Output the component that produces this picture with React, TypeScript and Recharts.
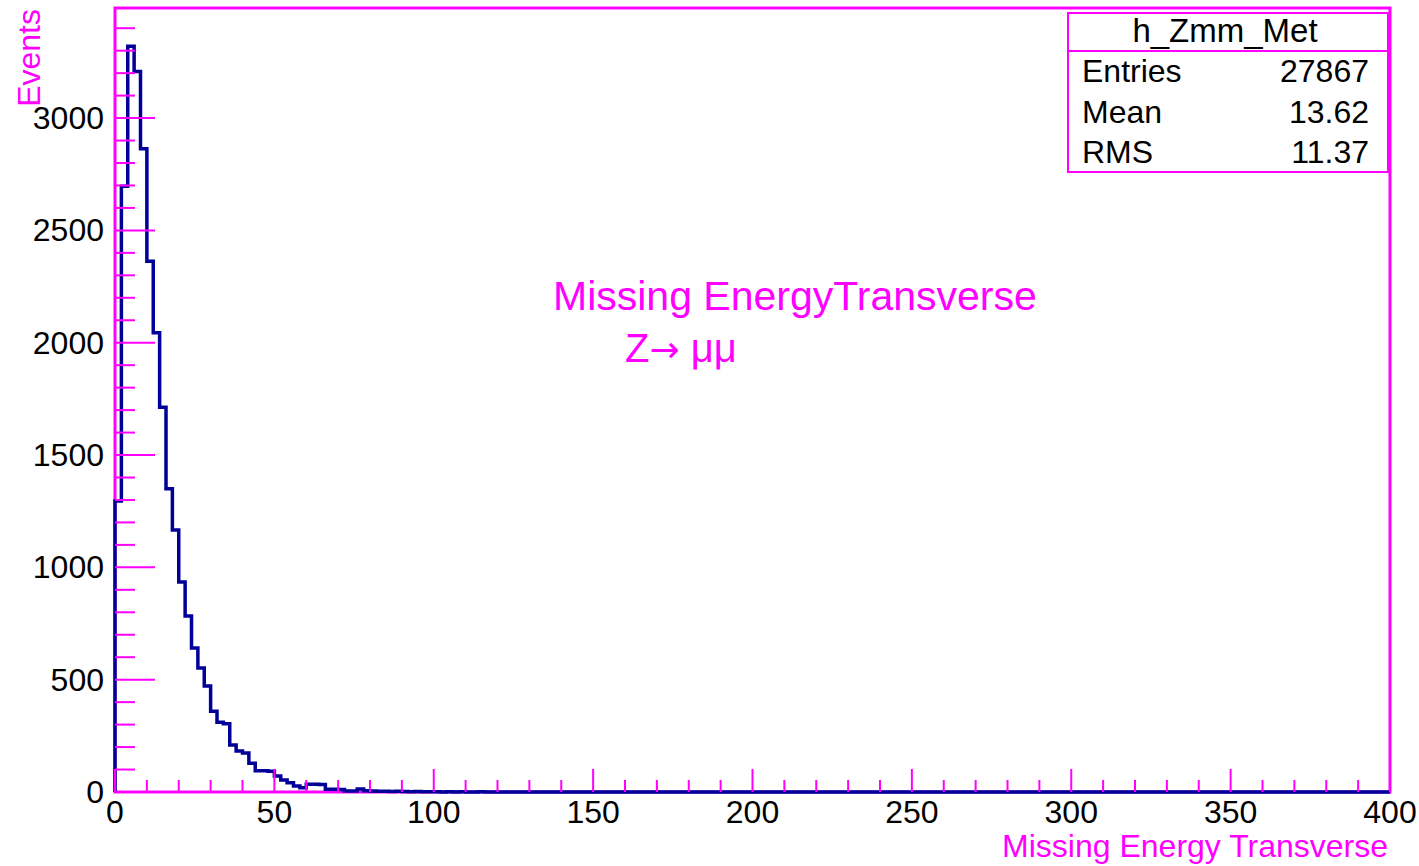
import { ComposedChart, Line, XAxis, YAxis, ReferenceArea } from 'recharts';

// h_Zmm_Met, 2 GeV bins starting at 0 (bins past the last one listed are empty)
const binWidth = 2;
const counts = [
    1295, 2697, 3320, 3207, 2863, 2363, 2044, 1713, 1350, 1166,
    935, 783, 641, 552, 472, 360, 311, 304, 209, 182,
    174, 128, 95, 95, 92, 71, 53, 41, 27, 19,
    34, 34, 33, 12, 12, 11, 4, 4, 13, 6,
    4, 3, 3, 2, 3, 2, 1, 2, 1, 1,
    1, 0, 1, 0, 1, 0, 0, 1, 0, 0,
];

const xMin = 0;
const xMax = 400;
const yMax = 3490;

const xTicks = [
    0, 10, 20, 30, 40, 50, 60, 70, 80, 90, 100, 110, 120, 130, 140, 150, 160, 170, 180, 190, 200,
    210, 220, 230, 240, 250, 260, 270, 280, 290, 300, 310, 320, 330, 340, 350, 360, 370, 380, 390, 400,
];
const xLabelled = [0, 50, 100, 150, 200, 250, 300, 350, 400];

const yTicks = [
    0, 100, 200, 300, 400, 500, 600, 700, 800, 900, 1000, 1100, 1200, 1300, 1400, 1500, 1600, 1700,
    1800, 1900, 2000, 2100, 2200, 2300, 2400, 2500, 2600, 2700, 2800, 2900, 3000, 3100, 3200, 3300, 3400,
];
const yLabelled = [0, 500, 1000, 1500, 2000, 2500, 3000];

const stats = [
    { name: 'Entries', value: '27867' },
    { name: 'Mean', value: '13.62' },
    { name: 'RMS', value: '11.37' },
];

const MAGENTA = '#ff00ff';
const HIST = '#000099';
const FONT = '"Liberation Sans", Arial, Helvetica, sans-serif';

// step data: lower bin edge -> count, closed at the axis end
const histData = [
    { x: xMin, y: 0 },
    ...counts.map((c, i) => ({ x: xMin + i * binWidth, y: c })),
    { x: xMin + counts.length * binWidth, y: 0 },
    { x: xMax, y: 0 },
];

const XTick = (props: any) => {
    const { x, y, payload } = props;
    const major = xLabelled.includes(payload.value);
    return (
        <g>
            <line x1={x} x2={x} y1={y} y2={y - (major ? 23 : 12)} stroke={MAGENTA} strokeWidth={2} />
            {major && (
                <text x={x} y={y + 31} textAnchor="middle" fontSize={32} fontFamily={FONT} fill="#000">
                    {payload.value}
                </text>
            )}
        </g>
    );
};

const YTick = (props: any) => {
    const { x, y, payload } = props;
    const major = yLabelled.includes(payload.value);
    return (
        <g>
            <line x1={x} x2={x + (major ? 40 : 20)} y1={y} y2={y} stroke={MAGENTA} strokeWidth={2} />
            {major && (
                <text x={x - 11} y={y + 11} textAnchor="end" fontSize={32} fontFamily={FONT} fill="#000">
                    {payload.value}
                </text>
            )}
        </g>
    );
};

export default function App() {
    return (
        <div style={{ position: 'absolute', left: 0, top: 0, width: 1419, height: 866, background: '#fff' }}>
            <ComposedChart
                width={1419}
                height={866}
                data={histData}
                margin={{ top: 8, right: 29, bottom: 0, left: 0 }}
            >
                <XAxis
                    dataKey="x"
                    type="number"
                    domain={[xMin, xMax]}
                    ticks={xTicks}
                    interval={0}
                    height={74}
                    tickSize={0}
                    tickMargin={0}
                    tickLine={false}
                    axisLine={false}
                    tick={<XTick />}
                />
                <YAxis
                    type="number"
                    domain={[0, yMax]}
                    ticks={yTicks}
                    interval={0}
                    width={115}
                    tickSize={0}
                    tickMargin={0}
                    tickLine={false}
                    axisLine={false}
                    tick={<YTick />}
                />
                <ReferenceArea
                    x1={xMin}
                    x2={xMax}
                    y1={0}
                    y2={yMax}
                    fill="none"
                    fillOpacity={0}
                    stroke={MAGENTA}
                    strokeWidth={3}
                />
                <Line
                    dataKey="y"
                    type="stepAfter"
                    stroke={HIST}
                    strokeWidth={3.5}
                    dot={false}
                    activeDot={false}
                    isAnimationActive={false}
                />
            </ComposedChart>

            {/* titles, annotation and stats box */}
            <svg
                width={1419}
                height={866}
                style={{ position: 'absolute', left: 0, top: 0, pointerEvents: 'none' }}
                fontFamily={FONT}
            >
                <text x={40} y={9} transform="rotate(-90 40 9)" textAnchor="end" fontSize={32} fill={MAGENTA}>
                    Events
                </text>
                <text x={1388} y={857} textAnchor="end" fontSize={32} fill={MAGENTA}>
                    Missing Energy Transverse
                </text>

                <text x={553} y={310} fontSize={41} fill={MAGENTA}>
                    Missing EnergyTransverse
                </text>
                <text x={625} y={362} fontSize={40} fill={MAGENTA}>
                    Z<tspan fontFamily='"DejaVu Sans"' fontSize={36}>→</tspan> μμ
                </text>

                <rect x={1068} y={13} width={320} height={159} fill="#fff" stroke={MAGENTA} strokeWidth={2} />
                <line x1={1068} x2={1388} y1={51} y2={51} stroke={MAGENTA} strokeWidth={2} />
                <text x={1225} y={42} textAnchor="middle" fontSize={33} fill="#000">
                    h_Zmm_Met
                </text>
                {stats.map((s, i) => (
                    <g key={s.name}>
                        <text x={1082} y={82 + i * 40.5} fontSize={32} fill="#000">
                            {s.name}
                        </text>
                        <text x={1369} y={82 + i * 40.5} textAnchor="end" fontSize={32} fill="#000">
                            {s.value}
                        </text>
                    </g>
                ))}
            </svg>
        </div>
    );
}
